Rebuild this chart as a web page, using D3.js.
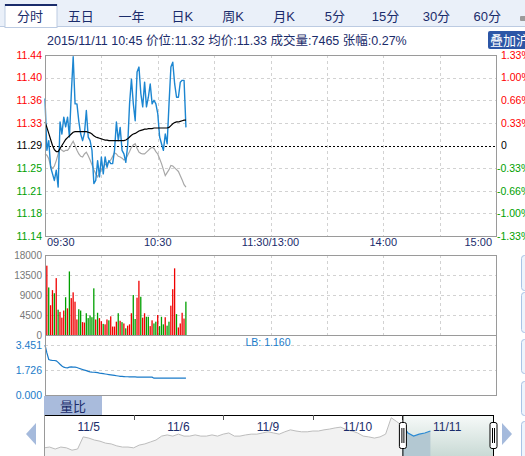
<!DOCTYPE html>
<html>
<head>
<meta charset="utf-8">
<script src="https://cdn.jsdelivr.net/npm/d3@7"></script>
<style>
body { margin: 0; background: #fff; }
svg { display: block; font-family: Arial, "Liberation Sans", "Noto Sans CJK SC", sans-serif; }
</style>
</head>
<body>
<div id="chart"></div>
<script>
// tabs + header
var tabs = ["分时", "五日", "一年", "日K", "周K", "月K", "5分", "15分", "30分", "60分"];
var infoText = "2015/11/11 10:45 价位:11.32 均价:11.33 成交量:7465 张幅:0.27%";

// price panel
var priceDomain = [11.14, 11.44];
var priceLabels = ["11.44", "11.40", "11.36", "11.33", "11.29", "11.25", "11.21", "11.18", "11.14"];
var pctLabels = ["1.33%", "1.00%", "0.66%", "0.33%", "0", "-0.33%", "-0.66%", "-1.00%", "-1.33%"];
var timeTicks = [0, 60, 120, 180, 240];
var timeLabels = ["09:30", "10:30", "11:30/13:00", "14:00", "15:00"];

var price = [11.368, 11.282, 11.298, 11.254, 11.243, 11.232, 11.249, 11.221, 11.329, 11.309,
    11.337, 11.321, 11.337, 11.304, 11.376, 11.437, 11.359, 11.359, 11.33, 11.309,
    11.298, 11.31, 11.348, 11.304, 11.298, 11.282, 11.227, 11.232, 11.265, 11.238,
    11.271, 11.243, 11.271, 11.254, 11.265, 11.26, 11.26, 11.282, 11.329, 11.298,
    11.32, 11.282, 11.276, 11.262, 11.29, 11.359, 11.40, 11.359, 11.331, 11.412,
    11.42, 11.376, 11.354, 11.395, 11.354, 11.37, 11.392, 11.359, 11.365, 11.359,
    11.343, 11.304, 11.293, 11.282, 11.309, 11.293, 11.359, 11.42, 11.428, 11.392,
    11.37, 11.37, 11.395, 11.398, 11.398, 11.32];

var avgPrice = [11.329, 11.32, 11.31, 11.30, 11.29, 11.283, 11.28, 11.28, 11.285, 11.29,
    11.295, 11.30, 11.303, 11.306, 11.309, 11.312, 11.313, 11.313, 11.313, 11.313,
    11.313, 11.313, 11.313, 11.312, 11.311, 11.309, 11.306, 11.304, 11.303, 11.302,
    11.301, 11.30, 11.299, 11.299, 11.298, 11.298, 11.298, 11.298, 11.298, 11.298,
    11.298, 11.298, 11.298, 11.299, 11.301, 11.304, 11.307, 11.309, 11.31, 11.312,
    11.314, 11.315, 11.316, 11.317, 11.317, 11.318, 11.318, 11.318, 11.319, 11.319,
    11.319, 11.319, 11.319, 11.319, 11.319, 11.319, 11.32, 11.323, 11.326, 11.328,
    11.329, 11.329, 11.33, 11.331, 11.332, 11.332];

var indexLine = [11.276, 11.274, 11.268, 11.256, 11.252, 11.256, 11.265, 11.276, 11.285, 11.282,
    11.28, 11.282, 11.282, 11.286, 11.292, 11.297, 11.29, 11.282, 11.276, 11.272,
    11.271, 11.276, 11.279, 11.273, 11.266, 11.258, 11.25, 11.243, 11.238, 11.245,
    11.25, 11.255, 11.258, 11.26, 11.263, 11.266, 11.272, 11.278, 11.276, 11.272,
    11.271, 11.269, 11.266, 11.268, 11.274, 11.28, 11.287, 11.291, 11.293, 11.285,
    11.279, 11.277, 11.276, 11.276, 11.279, 11.282, 11.285, 11.287, 11.285, 11.28,
    11.276, 11.268, 11.26, 11.25, 11.24, 11.245, 11.25, 11.257, 11.256, 11.253,
    11.25, 11.247, 11.24, 11.233, 11.225, 11.221];

// volume panel (one bar per minute from 09:31)
var volTicks = [0, 4500, 9000, 13500, 18000];
var volume = [15600, 10700, 6700, 10100, 9400, 12800, 5700, 5200, 3900, 5500,
    8500, 6000, 14300, 8300, 9600, 7500, 3500, 5800, 5500, 2900,
    2800, 4900, 3800, 4400, 4000, 10500, 3500, 5000, 3800, 3100,
    2500, 2400, 3500, 3300, 4200, 1900, 1900, 3000, 4900, 3200,
    2900, 2600, 1500, 2100, 2400, 4900, 9000, 3600, 8400, 12200,
    8600, 3900, 4900, 4100, 4100, 2000, 3300, 2600, 3000, 4500,
    2000, 4100, 2400, 4000, 2100, 3000, 6600, 10300, 15000, 4700,
    1700, 2600, 5000, 3700, 7500];
var volUp = [1, 0, 1, 1, 0, 1, 0, 1, 1, 1,
    0, 1, 0, 1, 1, 1, 1, 0, 0, 1,
    1, 0, 0, 0, 0, 0, 1, 0, 1, 1,
    0, 1, 1, 0, 1, 1, 1, 1, 0, 1,
    0, 1, 0, 1, 1, 1, 0, 0, 1, 1,
    0, 1, 1, 0, 0, 1, 1, 0, 0, 1,
    0, 0, 0, 1, 0, 0, 1, 1, 1, 0,
    1, 1, 1, 1, 0];

// volume ratio panel
var ratioTicks = [0, 1.726, 3.451];
var ratioTickLabels = ["0.000", "1.726", "3.451"];
var ratio = [3.45, 2.9, 2.45, 2.4, 2.38, 2.38, 2.36, 2.25, 2.12, 2.0,
    1.92, 1.88, 1.87, 1.92, 1.94, 1.93, 1.92, 1.9, 1.85, 1.8,
    1.76, 1.72, 1.68, 1.63, 1.6, 1.58, 1.57, 1.56, 1.54, 1.51,
    1.49, 1.47, 1.45, 1.43, 1.41, 1.39, 1.37, 1.35, 1.33, 1.31,
    1.29, 1.28, 1.27, 1.26, 1.26, 1.25, 1.25, 1.25, 1.25, 1.24,
    1.24, 1.24, 1.24, 1.24, 1.24, 1.24, 1.23, 1.23, 1.16, 1.16,
    1.16, 1.16, 1.16, 1.16, 1.16, 1.16, 1.16, 1.16, 1.16, 1.16,
    1.16, 1.16, 1.16, 1.16, 1.16, 1.16];
var ratioLast = "LB: 1.160";

// navigator (15 min samples, 16 per day)
var navDays = ["11/5", "11/6", "11/9", "11/10", "11/11"];
var navPast = [10.66, 10.68, 10.63, 10.68, 10.66, 10.60, 10.63, 10.94, 10.91, 10.86,
    10.83, 10.78, 10.76, 10.71, 10.68, 10.68, 10.66, 10.73, 10.76, 10.81,
    10.86, 10.96, 10.99, 10.96, 11.01, 10.96, 10.96, 10.99, 10.96, 10.96,
    10.99, 10.96, 11.01, 11.04, 10.96, 10.96, 10.99, 11.01, 11.01, 11.04,
    11.07, 11.04, 11.01, 11.07, 11.12, 11.09, 11.07, 11.07, 11.09, 11.09,
    11.12, 11.14, 11.17, 11.19, 11.12, 11.09, 11.04, 10.96, 10.94, 10.91,
    10.94, 11.01, 11.43, 11.33];
var navToday = [11.22, 11.04, 10.96, 11.01, 11.04, 11.09];

var W = 525, H = 456;
var navy = "#1a2c6b", red = "#ff0000", green = "#009f00", blue = "#1c86d1";

var svg = d3.select("#chart").append("svg")
    .attr("width", W)
    .attr("height", H);

svg.append("rect").attr("width", W).attr("height", H).attr("fill", "#fff");

//Tab bar
svg.append("rect").attr("x", 0).attr("y", 0).attr("width", W).attr("height", 27).attr("fill", "#eaf0f9");
svg.append("line").attr("x1", 0).attr("x2", W).attr("y1", 26.5).attr("y2", 26.5).attr("stroke", "#bccbe2");

var tabScale = d3.scaleBand().domain(tabs).range([4.6, 512.6]);
var activeTab = svg.append("g");
activeTab.append("rect")
    .attr("x", 5).attr("y", 4.5).attr("width", 52).attr("height", 23)
    .attr("fill", "#fff").attr("stroke", "#bccbe2");
activeTab.append("rect")
    .attr("x", 5).attr("y", 4).attr("width", 52).attr("height", 2)
    .attr("fill", navy);

svg.selectAll(".tab")
    .data(tabs)
    .enter().append("text")
    .attr("class", "tab")
    .attr("x", function(d) { return tabScale(d) + tabScale.bandwidth() / 2; })
    .attr("y", 20.5)
    .attr("text-anchor", "middle")
    .attr("font-size", 13)
    .attr("fill", navy)
    .text(function(d) { return d; });

// small icon at the far right of tab bar
svg.append("rect").attr("x", 520).attr("y", 16).attr("width", 6).attr("height", 5).attr("rx", 1).attr("fill", "#9a9a9a");

//Info line
svg.append("text")
    .attr("x", 47).attr("y", 45)
    .attr("font-size", 12.5)
    .attr("fill", navy)
    .text(infoText);

svg.append("rect").attr("x", 488).attr("y", 31).attr("width", 40).attr("height", 18).attr("rx", 2).attr("fill", "#2c56a6");
svg.append("text").attr("x", 490).attr("y", 45).attr("font-size", 13).attr("fill", "#fff").text("叠加沪");

//Scales
var left = 45, right = 496;
var x = d3.scaleLinear().domain([0, 240]).range([left, right]);
var yP = d3.scaleLinear().domain(priceDomain).range([236, 55]);
var yV = d3.scaleLinear().domain([0, 18000]).range([335, 255]);
var yR = d3.scaleLinear().domain([0, 4.14]).range([395, 335]);

var priceTicks = priceLabels.map(function(d, i) {
    return priceDomain[1] - i * (priceDomain[1] - priceDomain[0]) / (priceLabels.length - 1);
});
var gridMinutes = d3.range(30, 240, 30);

//Price panel grid
var pg = svg.append("g");
pg.selectAll(".hg")
    .data(priceTicks.slice(1, -1))
    .enter().append("line")
    .attr("x1", left).attr("x2", right)
    .attr("y1", function(d) { return Math.round(yP(d)) + 0.5; })
    .attr("y2", function(d) { return Math.round(yP(d)) + 0.5; })
    .attr("stroke", function(d, i) { return i == 3 ? "#000" : "#d2d2d2"; })
    .attr("stroke-dasharray", function(d, i) { return i == 3 ? "2,2" : "3,3"; });

pg.selectAll(".vg")
    .data(gridMinutes)
    .enter().append("line")
    .attr("x1", function(d) { return Math.round(x(d)) + 0.5; })
    .attr("x2", function(d) { return Math.round(x(d)) + 0.5; })
    .attr("y1", 55).attr("y2", 236)
    .attr("stroke", "#d2d2d2")
    .attr("stroke-dasharray", "3,3");

// left / right labels
function labelColor(i) {
    return i < 4 ? red : (i == 4 ? "#000" : green);
}
pg.selectAll(".pl")
    .data(priceLabels)
    .enter().append("text")
    .attr("x", 42)
    .attr("y", function(d, i) { return yP(priceTicks[i]); })
    .attr("dy", "0.36em")
    .attr("text-anchor", "end")
    .attr("font-size", 10.5)
    .attr("fill", function(d, i) { return labelColor(i); })
    .text(function(d) { return d; });

pg.selectAll(".rl")
    .data(pctLabels)
    .enter().append("text")
    .attr("x", 501)
    .attr("dx", function(d) { return d.charAt(0) == "-" ? -4 : 0; })
    .attr("y", function(d, i) { return yP(priceTicks[i]); })
    .attr("dy", "0.36em")
    .attr("font-size", 10.5)
    .attr("fill", function(d, i) { return labelColor(i); })
    .text(function(d) { return d; });

// time labels
svg.selectAll(".tl")
    .data(timeLabels)
    .enter().append("text")
    .attr("x", function(d, i) { return x(timeTicks[i]); })
    .attr("dx", function(d, i) { return i == 0 ? 2 : (i == timeLabels.length - 1 ? -4 : 0); })
    .attr("y", 246)
    .attr("text-anchor", function(d, i) { return i == 0 ? "start" : (i == timeLabels.length - 1 ? "end" : "middle"); })
    .attr("font-size", 11)
    .attr("fill", navy)
    .text(function(d) { return d; });

//Price lines
var line = function(yScale) {
    return d3.line()
        .x(function(d, i) { return x(i); })
        .y(function(d) { return yScale(d); });
};
svg.append("path").datum(indexLine)
    .attr("d", line(yP)).attr("fill", "none").attr("stroke", "#a8a8a8").attr("stroke-width", 1.2);
svg.append("path").datum(price)
    .attr("d", line(yP)).attr("fill", "none").attr("stroke", blue).attr("stroke-width", 1.4)
    .attr("stroke-linejoin", "round");
svg.append("path").datum(avgPrice)
    .attr("d", line(yP)).attr("fill", "none").attr("stroke", "#000").attr("stroke-width", 1.2);

svg.append("rect")
    .attr("x", left + 0.5).attr("y", 55.5).attr("width", right - left).attr("height", 181)
    .attr("fill", "none").attr("stroke", "#9a9a9a");

//Volume panel
var vg = svg.append("g");
vg.selectAll(".hg")
    .data(volTicks.slice(1, -1))
    .enter().append("line")
    .attr("x1", left).attr("x2", right)
    .attr("y1", function(d) { return Math.round(yV(d)) + 0.5; })
    .attr("y2", function(d) { return Math.round(yV(d)) + 0.5; })
    .attr("stroke", "#d2d2d2").attr("stroke-dasharray", "3,3");
vg.selectAll(".vg")
    .data(gridMinutes)
    .enter().append("line")
    .attr("x1", function(d) { return Math.round(x(d)) + 0.5; })
    .attr("x2", function(d) { return Math.round(x(d)) + 0.5; })
    .attr("y1", 255).attr("y2", 335)
    .attr("stroke", "#d2d2d2").attr("stroke-dasharray", "3,3");

vg.selectAll(".bar")
    .data(volume)
    .enter().append("rect")
    .attr("x", function(d, i) { return x(i + 1) - 0.7; })
    .attr("y", function(d) { return yV(d); })
    .attr("width", 1.3)
    .attr("height", function(d) { return yV(0) - yV(d); })
    .attr("fill", function(d, i) { return volUp[i] ? "#f00000" : "#00a000"; });

vg.selectAll(".vl")
    .data(volTicks)
    .enter().append("text")
    .attr("x", 42)
    .attr("y", function(d) { return yV(d); })
    .attr("dy", "0.36em")
    .attr("text-anchor", "end")
    .attr("font-size", 10)
    .attr("fill", "#777")
    .text(function(d) { return d; });

vg.append("rect")
    .attr("x", left + 0.5).attr("y", 255.5).attr("width", right - left).attr("height", 80)
    .attr("fill", "none").attr("stroke", "#9a9a9a");

//Ratio panel
var rg = svg.append("g");
rg.selectAll(".hg")
    .data(ratioTicks.slice(1))
    .enter().append("line")
    .attr("x1", left).attr("x2", right)
    .attr("y1", function(d) { return Math.round(yR(d)) + 0.5; })
    .attr("y2", function(d) { return Math.round(yR(d)) + 0.5; })
    .attr("stroke", "#d2d2d2").attr("stroke-dasharray", "3,3");

rg.append("path").datum(ratio)
    .attr("d", line(yR)).attr("fill", "none").attr("stroke", "#1a7bc9").attr("stroke-width", 1.2);

rg.selectAll(".rl")
    .data(ratioTickLabels)
    .enter().append("text")
    .attr("x", 42)
    .attr("y", function(d, i) { return yR(ratioTicks[i]); })
    .attr("dy", "0.36em")
    .attr("text-anchor", "end")
    .attr("font-size", 10.5)
    .attr("fill", "#1a7bc9")
    .text(function(d) { return d; });

rg.append("text")
    .attr("x", 268).attr("y", 345.5)
    .attr("text-anchor", "middle")
    .attr("font-size", 10.5)
    .attr("fill", "#1a7bc9")
    .text(ratioLast);

rg.append("rect")
    .attr("x", left + 0.5).attr("y", 335.5).attr("width", right - left).attr("height", 60)
    .attr("fill", "none").attr("stroke", "#9a9a9a");

// 量比 tab
svg.append("rect").attr("x", 44).attr("y", 396).attr("width", 58).attr("height", 19).attr("fill", "#a9bbdc");
svg.append("text").attr("x", 73).attr("y", 410.5).attr("text-anchor", "middle")
    .attr("font-size", 13).attr("fill", navy).text("量比");

//Navigator
var xN = d3.scaleLinear().domain([0, navDays.length * 16]).range([44, 492]);
var yN = d3.scaleLinear().domain([10.4, 11.5]).range([458, 415]);
var navBottom = 458;

var defs = svg.append("defs");
var grad = defs.append("linearGradient").attr("id", "sel").attr("x1", 0).attr("x2", 0).attr("y1", 0).attr("y2", 1);
grad.append("stop").attr("offset", "0%").attr("stop-color", "#f7faf9");
grad.append("stop").attr("offset", "100%").attr("stop-color", "#c9dad5");

var ng = svg.append("g");
var pastPlus = navPast.concat([navToday[0]]);
var selStart = xN(navPast.length);

ng.append("rect").attr("x", selStart).attr("y", 415).attr("width", 493 - selStart).attr("height", H - 415)
    .attr("fill", "url(#sel)");

var navArea = d3.area()
    .x(function(d, i) { return xN(i); })
    .y0(navBottom)
    .y1(function(d) { return yN(d); });
ng.append("path").datum(pastPlus).attr("d", navArea).attr("fill", "#f2f2f2");

var todayArea = d3.area()
    .x(function(d, i) { return xN(navPast.length + i); })
    .y0(navBottom)
    .y1(function(d) { return yN(d); });
ng.append("path").datum(navToday).attr("d", todayArea).attr("fill", "#b3c8d2");

ng.append("path").datum(pastPlus)
    .attr("d", d3.line().x(function(d, i) { return xN(i); }).y(function(d) { return yN(d); }))
    .attr("fill", "none").attr("stroke", "#bdbdbd").attr("stroke-width", 1);
ng.append("path").datum(navToday)
    .attr("d", d3.line().x(function(d, i) { return xN(navPast.length + i); }).y(function(d) { return yN(d); }))
    .attr("fill", "none").attr("stroke", "#2a8ad4").attr("stroke-width", 1.2);

ng.append("line").attr("x1", 44).attr("x2", 494).attr("y1", 415.5).attr("y2", 415.5).attr("stroke", "#000");
ng.append("line").attr("x1", 44.5).attr("x2", 44.5).attr("y1", 415).attr("y2", H).attr("stroke", "#999");

ng.selectAll(".dt")
    .data(navDays.slice(1))
    .enter().append("line")
    .attr("x1", function(d, i) { return Math.round(xN((i + 1) * 16)) + 0.5; })
    .attr("x2", function(d, i) { return Math.round(xN((i + 1) * 16)) + 0.5; })
    .attr("y1", 415).attr("y2", 420)
    .attr("stroke", "#555");

ng.selectAll(".dl")
    .data(navDays)
    .enter().append("text")
    .attr("x", function(d, i) { return xN(i * 16 + 8); })
    .attr("y", 430.5)
    .attr("text-anchor", "middle")
    .attr("font-size", 12)
    .attr("fill", navy)
    .text(function(d) { return d; });

// handles
[selStart, 493].forEach(function(hx) {
    ng.append("line").attr("x1", hx + 0.5).attr("x2", hx + 0.5).attr("y1", 415).attr("y2", H).attr("stroke", "#000");
    ng.append("rect").attr("x", hx - 3).attr("y", 422.5).attr("width", 7).attr("height", 26).attr("rx", 2)
        .attr("fill", "#fff").attr("stroke", "#000");
    ng.append("line").attr("x1", hx - 0.5).attr("x2", hx - 0.5).attr("y1", 428).attr("y2", 443).attr("stroke", "#000");
    ng.append("line").attr("x1", hx + 1.5).attr("x2", hx + 1.5).attr("y1", 428).attr("y2", 443).attr("stroke", "#000");
});

// arrows
svg.append("path").attr("d", "M26,434L36,423L36,445Z").attr("fill", "#a5badc");
svg.append("path").attr("d", "M502,423L512,434L502,445Z").attr("fill", "#a5badc");

// right side button column
var sideButtons = [[255, 290], [292, 332], [339, 373], [381, 415], [421, 462]];
svg.selectAll(".sb")
    .data(sideButtons)
    .enter().append("rect")
    .attr("x", 521.5)
    .attr("y", function(d) { return d[0] + 0.5; })
    .attr("width", 10)
    .attr("height", function(d) { return d[1] - d[0]; })
    .attr("rx", 3)
    .attr("fill", "#eef4fc")
    .attr("stroke", "#a9c3e6");
</script>
</body>
</html>
